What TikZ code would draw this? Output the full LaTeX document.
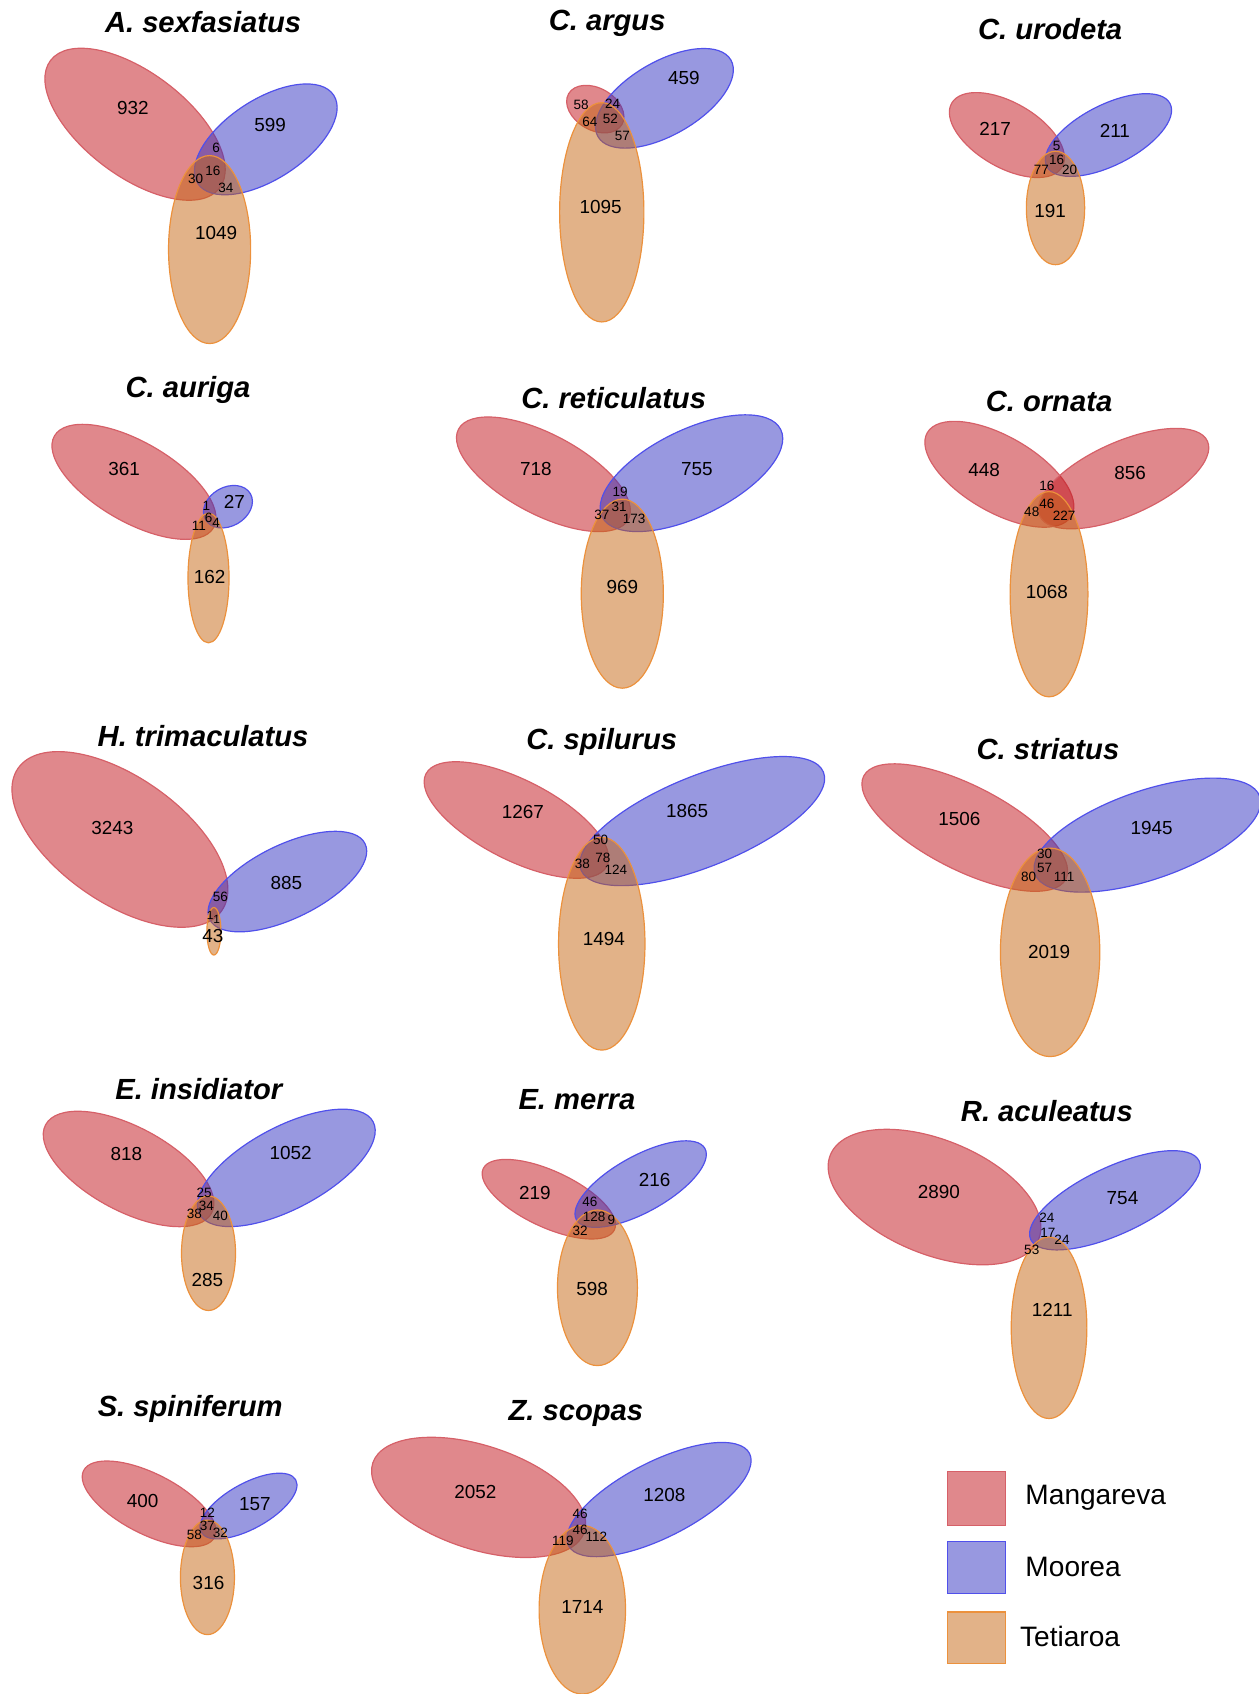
\documentclass[tikz,border=0pt]{standalone}
\usepackage{fontspec}
\setmainfont{Liberation Sans}
\definecolor{mfill}{RGB}{193,17,25}
\definecolor{bfill}{RGB}{49,49,193}
\definecolor{tfill}{RGB}{197,101,17}
\definecolor{mdraw}{RGB}{214,96,104}
\definecolor{bdraw}{RGB}{80,80,235}
\definecolor{tdraw}{RGB}{236,145,60}
\tikzset{
  mset/.style={fill=mfill,fill opacity=0.5,draw=mdraw,line width=1.1pt},
  bset/.style={fill=bfill,fill opacity=0.5,draw=bdraw,line width=1.1pt},
  tset/.style={fill=tfill,fill opacity=0.5,draw=tdraw,line width=1.1pt},
  big/.style={inner sep=0pt,font=\fontsize{17.5}{19}\selectfont},
  sml/.style={inner sep=0pt,font=\fontsize{12.5}{14}\selectfont},
  tiny/.style={inner sep=0pt,font=\fontsize{11}{12}\selectfont},
  ttl/.style={inner sep=0pt,font=\fontsize{27}{30}\selectfont\bfseries\itshape},
  leg/.style={inner sep=0pt,anchor=west,font=\fontsize{26}{28}\selectfont},
}
\newcommand\vset[6]{\path[#1,rotate around={#6:(#2,#3)}] (#2,#3) ellipse [x radius=#4pt, y radius=#5pt];}
\begin{document}
\begin{tikzpicture}[x=1pt,y=-1pt]
\useasboundingbox (0,0) rectangle (1165,1568);
% 1 A. sexfasiatus
\vset{mset}{125}{115}{98}{48}{-37}
\vset{bset}{246}{129}{75}{37}{33}
\vset{tset}{194}{231}{38}{87}{0}
\node[ttl] (t1) at (188,20) {A. sexfasiatus};
\node[big] (n1a) at (123,100) {932};
\node[big] (n1b) at (250,116) {599};
\node[big] (n1c) at (200,216) {1049};
\node[sml] (n1d) at (200,137) {6};
\node[sml] (n1e) at (197,158) {16};
\node[sml] (n1f) at (181,166) {30};
\node[sml] (n1g) at (209,174) {34};
% 2 C. argus
\vset{mset}{551}{101}{28.5}{19.4}{-30}
\vset{bset}{615}{91}{71}{34}{30}
\vset{tset}{557}{196.5}{39}{101.5}{0}
\node[ttl] (t2) at (562,22) {C. argus};
\node[big] (n2a) at (633,72) {459};
\node[sml] (n2b) at (538,97) {58};
\node[sml] (n2c) at (567,96) {24};
\node[sml] (n2d) at (546,113) {64};
\node[sml] (n2e) at (565,110) {52};
\node[sml] (n2f) at (576,126) {57};
\node[big] (n2g) at (556,192) {1095};
% 3 C. urodeta
\vset{mset}{932}{125}{59}{30}{-30}
\vset{bset}{1026}{125}{64}{28}{27}
\vset{tset}{977}{192.5}{27}{52.5}{0}
\node[ttl] (t3) at (972,27) {C. urodeta};
\node[big] (n3a) at (921,119) {217};
\node[big] (n3b) at (1032,121) {211};
\node[big] (n3c) at (972,195) {191};
\node[sml] (n3d) at (978,135) {5};
\node[sml] (n3e) at (978,148) {16};
\node[sml] (n3f) at (964,157) {77};
\node[sml] (n3g) at (990,157) {20};
% 4 C. auriga
\vset{mset}{124}{446}{85}{37}{-30}
\vset{bset}{211}{469}{24}{18}{30}
\vset{tset}{193}{535}{19}{60}{0}
\node[ttl] (t4) at (174,361) {C. auriga};
\node[big] (n4a) at (115,434) {361};
\node[big] (n4b) at (217,465) {27};
\node[big] (n4c) at (194,534) {162};
\node[sml] (n4d) at (191,468) {1};
\node[sml] (n4e) at (193,479) {6};
\node[sml] (n4f) at (184,487) {11};
\node[sml] (n4g) at (200,484) {4};
% 5 C. reticulatus
\vset{mset}{503}{439}{89}{37}{-28}
\vset{bset}{640}{438}{92}{40}{26}
\vset{tset}{576}{549.5}{38}{87.5}{0}
\node[ttl] (t5) at (568,368) {C. reticulatus};
\node[big] (n5a) at (496,434) {718};
\node[big] (n5b) at (645,434) {755};
\node[big] (n5c) at (576,543) {969};
\node[sml] (n5d) at (574,455) {19};
\node[sml] (n5e) at (573,469) {31};
\node[sml] (n5f) at (557,477) {37};
\node[sml] (n5g) at (587,480) {173};
% 6 C. ornata
\vset{mset}{925}{439}{77}{35}{-30}
\vset{mset}{1040}{443}{85}{34}{24}
\vset{tset}{971}{550}{36}{95}{0}
\node[ttl] (t6) at (971,372) {C. ornata};
\node[big] (n6a) at (911,435) {448};
\node[big] (n6b) at (1046,438) {856};
\node[big] (n6c) at (969,548) {1068};
\node[sml] (n6d) at (969,450) {16};
\node[sml] (n6e) at (969,466) {46};
\node[sml] (n6f) at (955,474) {48};
\node[sml] (n6g) at (985,477) {227};
% 7 H. trimaculatus
\vset{mset}{111}{777}{115}{58}{-35}
\vset{bset}{266}{816}{80}{34}{26}
\vset{tset}{198}{862}{6.5}{22}{0}
\node[ttl] (t7) at (188,681) {H. trimaculatus};
\node[big] (n7a) at (104,766) {3243};
\node[big] (n7b) at (265,817) {885};
\node[sml] (n7c) at (204,830) {56};
\node[tiny] (n7d) at (194.5,847) {1};
\node[tiny] (n7e) at (200.5,851) {1};
\node[big] (n7f) at (197,866) {43};
% 8 C. spilurus
\vset{mset}{478}{759}{94}{37}{-27}
\vset{bset}{650}{760}{121}{42}{22}
\vset{tset}{557}{873.5}{40}{98.5}{0}
\node[ttl] (t8) at (557,687) {C. spilurus};
\node[big] (n8a) at (484,752) {1267};
\node[big] (n8b) at (636,751) {1865};
\node[big] (n8c) at (559,869) {1494};
\node[sml] (n8d) at (556,777) {50};
\node[sml] (n8e) at (558,794) {78};
\node[sml] (n8f) at (539,800) {38};
\node[sml] (n8g) at (570,805) {124};
% 9 C. striatus
\vset{mset}{893}{766}{105}{39}{-27}
\vset{bset}{1062}{773}{110}{41}{19}
\vset{tset}{972}{881.5}{46}{96.5}{0}
\node[ttl] (t9) at (970,693) {C. striatus};
\node[big] (n9a) at (888,758) {1506};
\node[big] (n9b) at (1066,766) {1945};
\node[big] (n9c) at (971,881) {2019};
\node[sml] (n9d) at (967,790) {30};
\node[sml] (n9e) at (967,803) {57};
\node[sml] (n9f) at (952,812) {80};
\node[sml] (n9g) at (985,812) {111};
% 10 E. insidiator
\vset{mset}{119}{1082}{87}{39}{-28}
\vset{bset}{265}{1081}{91}{38}{28}
\vset{tset}{193}{1160}{25}{53}{0}
\node[ttl] (t10) at (184,1008) {E. insidiator};
\node[big] (n10a) at (117,1068) {818};
\node[big] (n10b) at (269,1067) {1052};
\node[big] (n10c) at (192,1185) {285};
\node[sml] (n10d) at (189,1104) {25};
\node[sml] (n10e) at (191,1116) {34};
\node[sml] (n10f) at (180,1124) {38};
\node[sml] (n10g) at (204,1125) {40};
% 11 E. merra
\vset{mset}{508}{1110}{67}{26}{-25}
\vset{bset}{593}{1096}{68}{26}{29}
\vset{tset}{553}{1192}{37}{72}{0}
\node[ttl] (t11) at (534,1018) {E. merra};
\node[big] (n11a) at (495,1104) {219};
\node[big] (n11b) at (606,1092) {216};
\node[big] (n11c) at (548,1193) {598};
\node[sml] (n11d) at (546,1112) {46};
\node[sml] (n11e) at (550,1126) {128};
\node[sml] (n11f) at (566,1129) {9};
\node[sml] (n11g) at (537,1139) {32};
% 12 R. aculeatus
\vset{mset}{865}{1108}{104}{53}{-22}
\vset{bset}{1032}{1111}{86}{31}{25}
\vset{tset}{971}{1229}{35}{84}{0}
\node[ttl] (t12) at (969,1028) {R. aculeatus};
\node[big] (n12a) at (869,1103) {2890};
\node[big] (n12b) at (1039,1109) {754};
\node[big] (n12c) at (974,1212) {1211};
\node[sml] (n12d) at (969,1127) {24};
\node[sml] (n12e) at (970,1141) {17};
\node[sml] (n12f) at (955,1157) {53};
\node[sml] (n12g) at (983,1148) {24};
% 13 S. spiniferum
\vset{mset}{138}{1392}{68}{28}{-27}
\vset{bset}{230}{1394}{50}{21}{29}
\vset{tset}{192}{1460}{25}{53}{0}
\node[ttl] (t13) at (176,1304) {S. spiniferum};
\node[big] (n13a) at (132,1389) {400};
\node[big] (n13b) at (236,1392) {157};
\node[big] (n13c) at (193,1465) {316};
\node[sml] (n13d) at (192,1400) {12};
\node[sml] (n13e) at (192,1412) {37};
\node[sml] (n13f) at (180,1421) {58};
\node[sml] (n13g) at (204,1419) {32};
% 14 Z. scopas
\vset{mset}{443}{1386}{103}{48}{-18}
\vset{bset}{610}{1388}{94}{35}{27}
\vset{tset}{539}{1490}{40}{78}{0}
\node[ttl] (t14) at (533,1308) {Z. scopas};
\node[big] (n14a) at (440,1381) {2052};
\node[big] (n14b) at (615,1384) {1208};
\node[big] (n14c) at (539,1487) {1714};
\node[sml] (n14d) at (537,1401) {46};
\node[sml] (n14e) at (537,1416) {46};
\node[sml] (n14f) at (521,1426) {119};
\node[sml] (n14g) at (552,1422) {112};
% legend
\path[mset] (877,1362) rectangle (931,1412);
\path[bset] (877,1427) rectangle (931,1475);
\path[tset] (877,1492) rectangle (931,1540);
\node[leg] (l1) at (949,1386) {Mangareva};
\node[leg] (l2) at (949,1450) {Moorea};
\node[leg] (l3) at (944,1515) {Tetiaroa};
\end{tikzpicture}
\end{document}
